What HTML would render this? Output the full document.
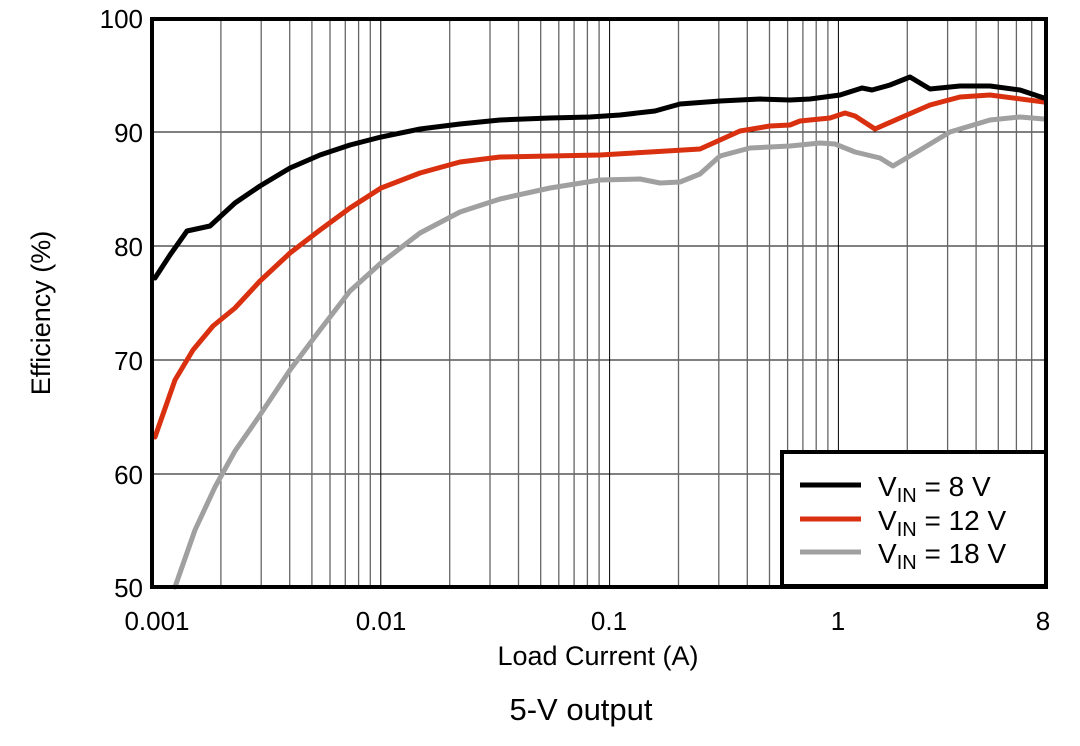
<!DOCTYPE html>
<html><head><meta charset="utf-8"><style>body{margin:0;background:#fff}svg{display:block}text{font-family:"Liberation Sans",sans-serif;fill:#000}</style></head><body>
<svg width="1080" height="746" viewBox="0 0 1080 746">
<g stroke="#000" stroke-width="1">
<line x1="152" y1="132" x2="1046" y2="132"/><line x1="152" y1="246" x2="1046" y2="246"/><line x1="152" y1="360" x2="1046" y2="360"/><line x1="152" y1="474" x2="1046" y2="474"/>
<line x1="380.8" y1="19" x2="380.8" y2="587"/><line x1="609.6" y1="19" x2="609.6" y2="587"/><line x1="838.4" y1="19" x2="838.4" y2="587"/>
</g>
<g stroke="#666" stroke-width="1.3">
<line x1="220.9" y1="19" x2="220.9" y2="587"/><line x1="261.2" y1="19" x2="261.2" y2="587"/><line x1="289.7" y1="19" x2="289.7" y2="587"/><line x1="311.9" y1="19" x2="311.9" y2="587"/><line x1="330" y1="19" x2="330" y2="587"/><line x1="345.3" y1="19" x2="345.3" y2="587"/><line x1="358.6" y1="19" x2="358.6" y2="587"/><line x1="370.3" y1="19" x2="370.3" y2="587"/>
<line x1="449.7" y1="19" x2="449.7" y2="587"/><line x1="490" y1="19" x2="490" y2="587"/><line x1="518.5" y1="19" x2="518.5" y2="587"/><line x1="540.7" y1="19" x2="540.7" y2="587"/><line x1="558.8" y1="19" x2="558.8" y2="587"/><line x1="574.1" y1="19" x2="574.1" y2="587"/><line x1="587.4" y1="19" x2="587.4" y2="587"/><line x1="599.1" y1="19" x2="599.1" y2="587"/>
<line x1="678.5" y1="19" x2="678.5" y2="587"/><line x1="718.8" y1="19" x2="718.8" y2="587"/><line x1="747.3" y1="19" x2="747.3" y2="587"/><line x1="769.5" y1="19" x2="769.5" y2="587"/><line x1="787.6" y1="19" x2="787.6" y2="587"/><line x1="802.9" y1="19" x2="802.9" y2="587"/><line x1="816.2" y1="19" x2="816.2" y2="587"/><line x1="827.9" y1="19" x2="827.9" y2="587"/>
<line x1="907.3" y1="19" x2="907.3" y2="587"/><line x1="947.6" y1="19" x2="947.6" y2="587"/><line x1="976.1" y1="19" x2="976.1" y2="587"/><line x1="998.3" y1="19" x2="998.3" y2="587"/><line x1="1016.4" y1="19" x2="1016.4" y2="587"/><line x1="1031.7" y1="19" x2="1031.7" y2="587"/>
</g>
<g fill="none" stroke-width="5" stroke-linejoin="round" stroke-linecap="round">
<polyline stroke="#a0a0a0" points="175,587 195,530 215,487 235,451 260,415 290,370 320,330 350,291 381,263 420,233 460,212 500,199 550,188 600,180 640,179 660,183 680,182 700,174 720,156 750,148 790,146 820,143 835,144 855,152 880,158 893,166 920,150 950,132 990,120 1020,117 1044,119"/>
<polyline stroke="#d93010" points="155,437 175,380 193,350 213,326 235,308 260,281 290,253 320,230 350,208 381,188 420,173 460,162 500,157 550,156 600,155 650,152 700,149 720,140 740,131 770,126 790,125 800,121 830,118 845,113 855,116 875,129 900,118 930,105 960,97 990,95 1044,102"/>
<polyline stroke="#000" points="155,278 170,255 187,231 210,226 235,203 260,186 290,168 320,155 350,145 381,137 420,129 460,124 500,120 550,118 590,117 620,115 655,111 680,104 720,101 760,99 790,100 810,99 840,95 862,88 872,90 890,85 910,77 930,89 960,86 990,86 1020,90 1044,98"/>
</g>
<rect x="152" y="19" width="894" height="568" fill="none" stroke="#000" stroke-width="4"/>
<rect x="782" y="452" width="264" height="134" fill="#fff" stroke="#000" stroke-width="4"/>
<g stroke-width="5"><line x1="800" y1="485" x2="861" y2="485" stroke="#000"/><line x1="800" y1="519" x2="861" y2="519" stroke="#d93010"/><line x1="800" y1="552" x2="861" y2="552" stroke="#a0a0a0"/></g>
<g font-size="28"><text x="878" y="496">V<tspan font-size="20" dy="6">IN</tspan><tspan dy="-6"> = 8 V</tspan></text>
<text x="878" y="530">V<tspan font-size="20" dy="6">IN</tspan><tspan dy="-6"> = 12 V</tspan></text>
<text x="878" y="563">V<tspan font-size="20" dy="6">IN</tspan><tspan dy="-6"> = 18 V</tspan></text></g>
<g font-size="26" text-anchor="end"><text x="143" y="28">100</text><text x="143" y="142">90</text><text x="143" y="256">80</text><text x="143" y="370">70</text><text x="143" y="484">60</text><text x="143" y="597">50</text></g>
<g font-size="26" text-anchor="middle"><text x="157" y="630">0.001</text><text x="381" y="630">0.01</text><text x="609" y="630">0.1</text><text x="838" y="630">1</text><text x="1043" y="630">8</text></g>
<text x="598" y="665" font-size="27" text-anchor="middle">Load Current (A)</text>
<text x="50" y="313" font-size="27" text-anchor="middle" transform="rotate(-90 50 313)">Efficiency (%)</text>
<text x="581" y="720" font-size="31" text-anchor="middle">5-V output</text>
</svg>
</body></html>
